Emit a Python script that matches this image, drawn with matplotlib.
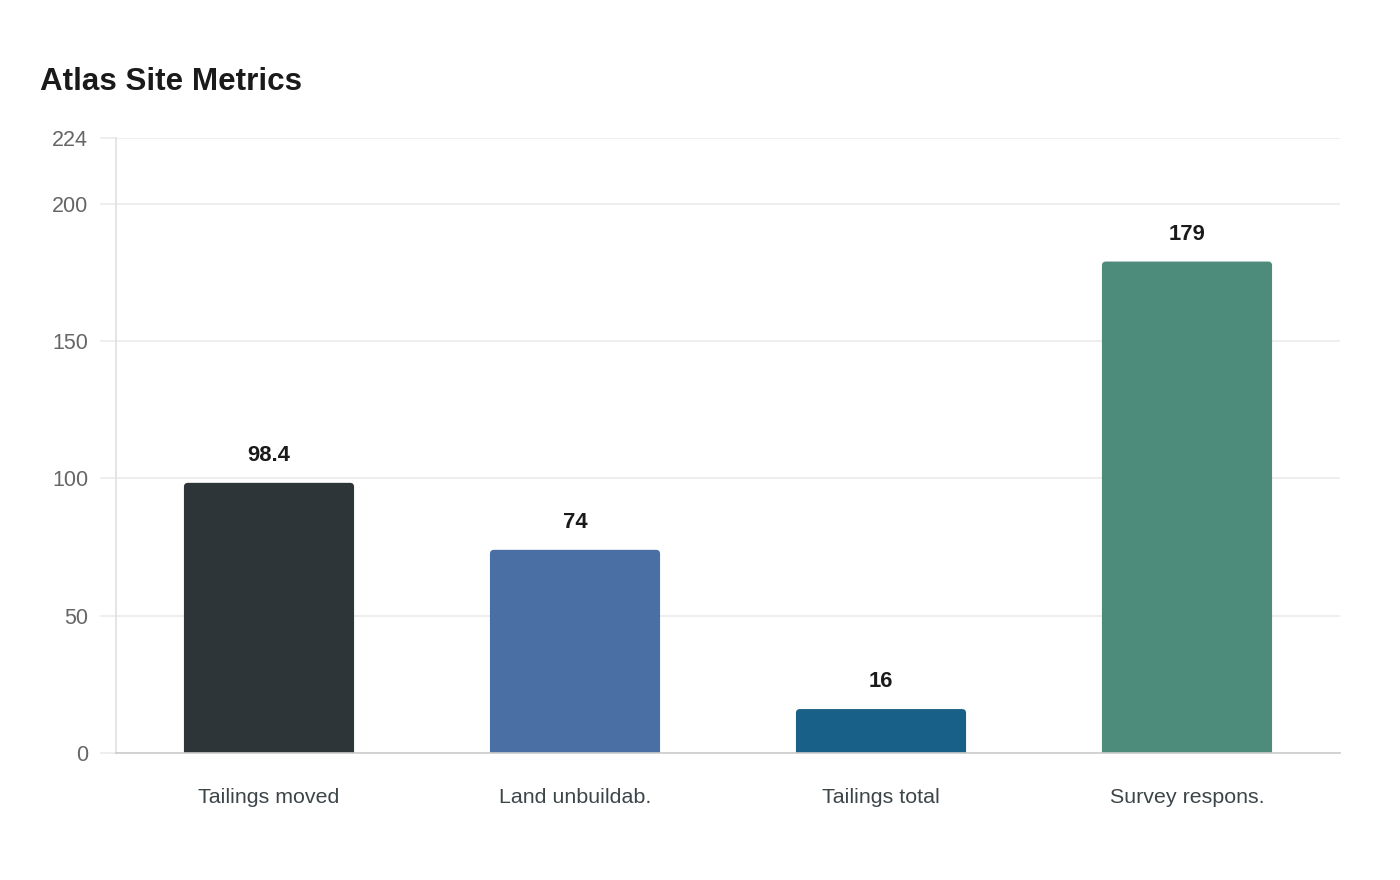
import matplotlib
matplotlib.use("Agg")
import matplotlib.pyplot as plt
from matplotlib.patches import FancyBboxPatch

plt.rcParams['font.family'] = ['Liberation Sans', 'DejaVu Sans']

categories = ["Tailings moved", "Land unbuildab.", "Tailings total", "Survey respons."]
values = [98.4, 74, 16, 179]
value_labels = ["98.4", "74", "16", "179"]
colors = ["#2e3538", "#4a6fa5", "#186087", "#4d8b7a"]
yticks = [0, 50, 100, 150, 200, 224]
title = "Atlas Site Metrics"

W, H = 1400, 880
fig = plt.figure(figsize=(14, 8.8), dpi=100)
ax_l, ax_r, ax_t, ax_b = 116, 1340, 138, 753
ax = fig.add_axes([ax_l/W, 1-ax_b/H, (ax_r-ax_l)/W, (ax_b-ax_t)/H])

ymax = 224
ax.set_xlim(-0.5, len(categories) - 0.5)
ax.set_ylim(0, ymax)

bar_w = 0.556
px_per_x = (ax_r - ax_l) / len(categories)
px_per_y = (ax_b - ax_t) / ymax
radius_px = 4
x = list(range(len(categories)))
for xi, v, c in zip(x, values, colors):
    p = FancyBboxPatch((xi - bar_w/2, -5), bar_w, v + 5,
                       boxstyle=f"round,pad=0,rounding_size={radius_px/px_per_x}",
                       mutation_aspect=px_per_x/px_per_y,
                       facecolor=c, edgecolor='none', zorder=3)
    ax.add_patch(p)

ax.set_yticks(yticks)
ax.set_yticklabels([str(t) for t in yticks])
ax.grid(axis='y', color='#ebebeb', linewidth=1.2, zorder=0)
ax.tick_params(axis='y', length=11.5, width=1.2, color='#ebebeb', labelsize=15.5,
               labelcolor='#666666', pad=8.5)
ax.tick_params(axis='x', length=0, labelsize=15.4, labelcolor='#3d4548', pad=25)
ax.set_xticks(x)
ax.set_xticklabels(categories)

for s in ['top', 'right']:
    ax.spines[s].set_visible(False)
ax.spines['left'].set_color('#e0e0e0')
ax.spines['left'].set_linewidth(1.2)
ax.spines['bottom'].set_color('#cccccc')
ax.spines['bottom'].set_linewidth(1.2)
ax.spines['bottom'].set_zorder(4)

for xi, v, lab in zip(x, values, value_labels):
    ax.annotate(lab, (xi, v), xytext=(0, 19.5), textcoords='offset points',
                ha='center', va='center', fontsize=15.8, fontweight='bold', color='#1a1a1a')

fig.text(40/W, 1-82/H, title, fontsize=22.6, fontweight='bold', color='#1a1a1a',
         ha='left', va='center')

fig.savefig("out.png", dpi=100, facecolor='white')
